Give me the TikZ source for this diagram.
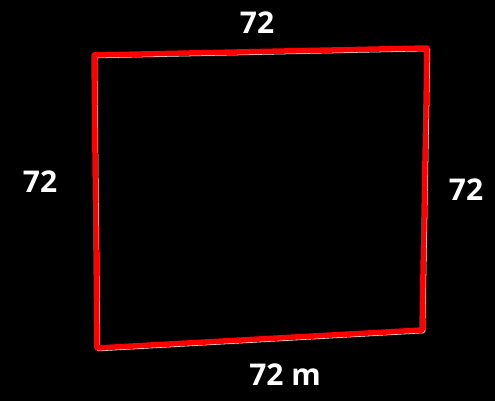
\documentclass[tikz,border=0pt]{standalone}
\usepackage{fontspec}
\setmainfont{Open Sans}
\usetikzlibrary{positioning}

\begin{document}
\begin{tikzpicture}[x=1pt,y=-1pt,
  side/.style={line width=5.5pt,line cap=round,line join=round},
  lbl/.style={text=white,font=\bfseries\fontsize{30}{30}\selectfont}]
\fill[black] (0,0) rectangle (495,401);
\useasboundingbox (0,0) rectangle (495,401);
% corners of the square
\coordinate (tl) at (94,55);
\coordinate (tr) at (427,48);
\coordinate (br) at (422,330);
\coordinate (bl) at (97,348);
\draw[side,white,line width=3.5pt] ([shift={(1.5,1.5)}]tl) -- ([shift={(1.5,1.5)}]tr) -- ([shift={(1.5,1.5)}]br) -- ([shift={(1.5,1.5)}]bl) -- cycle;
\draw[side,red] (tl) -- (tr) -- (br) -- (bl) -- cycle;
\node[lbl] (top) at (257,23) {72};
\node[lbl] (left) at (40,182) {72};
\node[lbl] (right) at (466,190) {72};
\node[lbl] (bottom) at (285,375) {72 m};
\end{tikzpicture}
\end{document}
